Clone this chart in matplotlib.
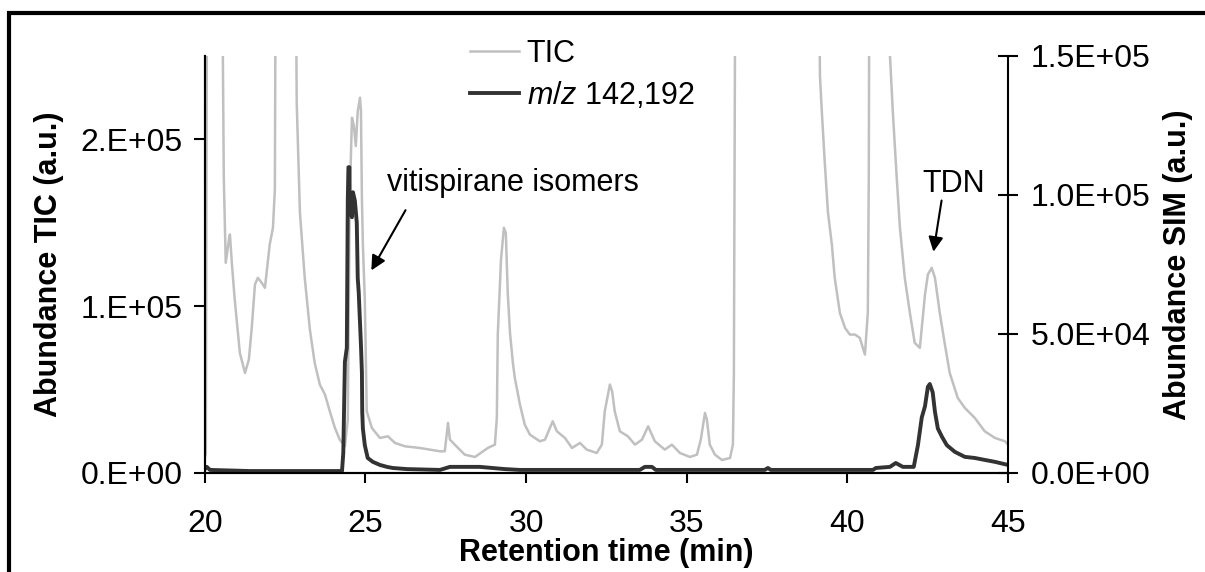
import matplotlib
matplotlib.use("Agg")
import matplotlib.pyplot as plt
from matplotlib.patches import Rectangle
from matplotlib.ticker import FuncFormatter

plt.rcParams['font.family'] = ['Liberation Sans', 'DejaVu Sans']
plt.rcParams['mathtext.fontset'] = 'custom'
plt.rcParams['mathtext.it'] = 'Liberation Sans:italic'
plt.rcParams['mathtext.rm'] = 'Liberation Sans'

# TIC chromatogram (left axis), values above 2.5E+05 run off the top
tic_time = [20.0, 20.03, 20.08, 20.5, 20.59, 20.65, 20.75, 20.78, 20.84, 20.93,
            21.09, 21.25, 21.37, 21.46, 21.56, 21.65, 21.77, 21.87, 22.02, 22.12,
            22.18, 22.22, 22.8, 22.86, 22.9, 22.96, 23.11, 23.27, 23.42, 23.58,
            23.74, 23.89, 24.05, 24.2, 24.36, 24.45, 24.51, 24.58, 24.64, 24.7,
            24.76, 24.83, 24.86, 24.89, 24.92, 24.98, 25.04, 25.2, 25.45, 25.7,
            25.92, 26.23, 26.69, 27.32, 27.47, 27.57, 27.63, 27.78, 28.09, 28.41,
            28.81, 29.03, 29.09, 29.12, 29.22, 29.31, 29.37, 29.43, 29.5, 29.59,
            29.65, 29.81, 29.96, 30.12, 30.43, 30.59, 30.83, 30.96, 31.21, 31.43,
            31.68, 31.89, 32.2, 32.36, 32.45, 32.55, 32.61, 32.68, 32.76, 32.92,
            33.17, 33.39, 33.61, 33.8, 34.01, 34.32, 34.54, 34.79, 35.1, 35.32,
            35.44, 35.57, 35.63, 35.72, 35.88, 36.1, 36.35, 36.44, 36.47, 36.53,
            39.08, 39.15, 39.21, 39.3, 39.4, 39.52, 39.61, 39.77, 39.93, 40.08,
            40.24, 40.39, 40.55, 40.64, 40.67, 40.7, 41.3, 41.33, 41.42, 41.48,
            41.54, 41.64, 41.79, 41.95, 42.1, 42.26, 42.42, 42.51, 42.63, 42.73,
            42.88, 43.04, 43.19, 43.44, 43.66, 43.97, 44.28, 44.6, 44.91, 45.06]
tic_abund = [9.0e3, 1.2e4, 4.0e5, 4.0e5, 1.77e5, 1.26e5, 1.40e5, 1.43e5, 1.26e5, 1.04e5,
             7.2e4, 6.0e4, 6.8e4, 8.7e4, 1.13e5, 1.17e5, 1.14e5, 1.11e5, 1.37e5, 1.47e5,
             1.70e5, 4.0e5, 4.0e5, 2.22e5, 1.96e5, 1.56e5, 1.17e5, 8.6e4, 6.6e4, 5.3e4,
             4.7e4, 3.7e4, 2.7e4, 2.0e4, 1.6e4, 3.2e4, 1.64e5, 2.13e5, 2.08e5, 1.96e5,
             2.17e5, 2.25e5, 2.17e5, 1.64e5, 1.37e5, 1.04e5, 3.7e4, 2.7e4, 2.1e4, 2.2e4,
             1.8e4, 1.6e4, 1.5e4, 1.3e4, 1.3e4, 3.0e4, 2.0e4, 1.7e4, 1.1e4, 9.6e3,
             1.5e4, 1.7e4, 3.3e4, 8.3e4, 1.28e5, 1.47e5, 1.44e5, 1.08e5, 8.4e4, 6.6e4,
             5.7e4, 4.1e4, 2.9e4, 2.3e4, 1.9e4, 2.0e4, 3.1e4, 2.5e4, 2.1e4, 1.5e4,
             1.8e4, 1.4e4, 1.2e4, 1.7e4, 3.7e4, 4.7e4, 5.3e4, 4.9e4, 3.7e4, 2.5e4,
             2.2e4, 1.7e4, 2.0e4, 2.8e4, 1.9e4, 1.4e4, 1.7e4, 1.2e4, 9.6e3, 1.1e4,
             2.0e4, 3.6e4, 3.2e4, 1.7e4, 1.1e4, 7.8e3, 9.0e3, 1.7e4, 5.9e4, 4.0e5,
             4.0e5, 2.38e5, 2.16e5, 1.86e5, 1.56e5, 1.37e5, 1.17e5, 9.6e4, 8.7e4, 8.3e4,
             8.3e4, 8.1e4, 7.1e4, 9.6e4, 1.77e5, 4.0e5, 4.0e5, 2.5e5, 2.16e5, 1.96e5,
             1.77e5, 1.47e5, 1.17e5, 9.6e4, 7.8e4, 7.5e4, 1.07e5, 1.19e5, 1.23e5, 1.17e5,
             9.6e4, 7.7e4, 6.0e4, 4.5e4, 3.9e4, 3.3e4, 2.5e4, 2.1e4, 1.9e4, 1.6e4]

# SIM trace m/z 142,192 (right axis)
sim_time = [20.0, 20.06, 20.16, 21.4, 24.27, 24.31, 24.36, 24.42, 24.45, 24.47,
            24.5, 24.51, 24.58, 24.61, 24.67, 24.73, 24.76, 24.79, 24.86, 24.89,
            24.9, 24.92, 24.98, 25.07, 25.23, 25.45, 25.67, 25.85, 26.29, 27.32,
            27.63, 28.56, 29.34, 29.81, 33.54, 33.7, 33.92, 34.04, 37.43, 37.53,
            37.62, 40.8, 40.89, 41.33, 41.51, 41.73, 42.07, 42.2, 42.32, 42.42,
            42.51, 42.57, 42.66, 42.73, 42.82, 42.95, 43.1, 43.35, 43.66, 43.97,
            44.28, 44.6, 45.0]
sim_abund = [1.4e3, 2.2e3, 1.1e3, 7e2, 7e2, 7.2e3, 4.0e4, 4.5e4, 9.8e4, 1.10e5,
             1.10e5, 9.5e4, 9.2e4, 1.01e5, 9.8e4, 9.0e4, 7.0e4, 6.5e4, 4.6e4, 3.6e4,
             2.2e4, 1.6e4, 1.0e4, 5.4e3, 4.0e3, 2.9e3, 2.2e3, 1.8e3, 1.4e3, 1.1e3,
             2.2e3, 2.2e3, 1.4e3, 1.1e3, 1.1e3, 2.2e3, 2.2e3, 1.1e3, 1.1e3, 1.8e3,
             1.1e3, 1.1e3, 1.8e3, 2.2e3, 3.6e3, 2.2e3, 2.2e3, 1.0e4, 2.0e4, 2.4e4,
             3.1e4, 3.2e4, 2.9e4, 2.2e4, 1.6e4, 1.3e4, 1.0e4, 7.6e3, 5.8e3, 5.4e3,
             4.7e3, 4.0e3, 2.9e3]

x_ticks = [20, 25, 30, 35, 40, 45]
left_ticks = [0, 1e5, 2e5]
right_ticks = [0, 5e4, 1e5, 1.5e5]

fs = 22      # text
fs_tick = 23  # tick labels
fig = plt.figure(figsize=(12.05, 5.72), dpi=100)
ax = fig.add_axes([0.170, 0.1731, 0.6664, 0.729])
ax2 = ax.twinx()

l1, = ax.plot(tic_time, tic_abund, color='#c0c0c0', lw=1.8, label='TIC')
l2, = ax2.plot(sim_time, sim_abund, color='#333333', lw=2.8, label=r'$m/z$ 142,192')

ax.set_xlim(20, 45)
ax.set_ylim(0, 2.5e5)
ax2.set_ylim(0, 1.5e5)
ax.set_xticks(x_ticks)
ax.set_yticks(left_ticks)
ax2.set_yticks(right_ticks)
ax.yaxis.set_major_formatter(FuncFormatter(lambda v, p: '{:#.0E}'.format(v)))
ax2.yaxis.set_major_formatter(FuncFormatter(lambda v, p: '{:.1E}'.format(v)))

for a in (ax, ax2):
    a.spines['top'].set_visible(False)
    for s in a.spines.values():
        s.set_linewidth(1.5)
ax.spines['right'].set_visible(False)

ax.tick_params(axis='x', direction='out', length=7, width=1.5, labelsize=fs_tick, pad=19)
ax.tick_params(axis='y', direction='out', length=8, width=1.5, labelsize=fs_tick, pad=8)
ax2.tick_params(axis='y', direction='inout', length=15, width=1.5, labelsize=fs_tick, pad=9)

ax.set_xlabel('Retention time (min)', fontsize=fs, fontweight='bold', labelpad=-1)
ax.set_ylabel('Abundance TIC (a.u.)', fontsize=fs, fontweight='bold', labelpad=12)
ax2.set_ylabel('Abundance SIM (a.u.)', fontsize=fs, fontweight='bold', labelpad=9)

ax2.legend(handles=[l1, l2], loc='upper left', bbox_to_anchor=(0.315, 1.07),
           frameon=False, fontsize=fs, handlelength=1.6, handletextpad=0.25,
           labelspacing=0.35, borderaxespad=0)

# annotations
arrow = dict(arrowstyle='-|>', color='black', lw=1.5, mutation_scale=22)
ax.annotate('', xy=(25.14, 1.2e5), xytext=(26.29, 1.59e5), arrowprops=arrow)
ax.text(25.67, 1.74e5, 'vitispirane isomers', fontsize=fs, va='center', ha='left')
ax.annotate('', xy=(42.67, 1.31e5), xytext=(42.95, 1.65e5), arrowprops=arrow)
ax.text(43.32, 1.73e5, 'TDN', fontsize=fs, va='center', ha='center')

# outer frame of the original figure
fig.add_artist(Rectangle((9 / 1205, -0.2), 1.5, 1.2 - 13 / 572,
                         transform=fig.transFigure, fill=False, lw=3, color='black'))

fig.savefig('out.png', dpi=100)
